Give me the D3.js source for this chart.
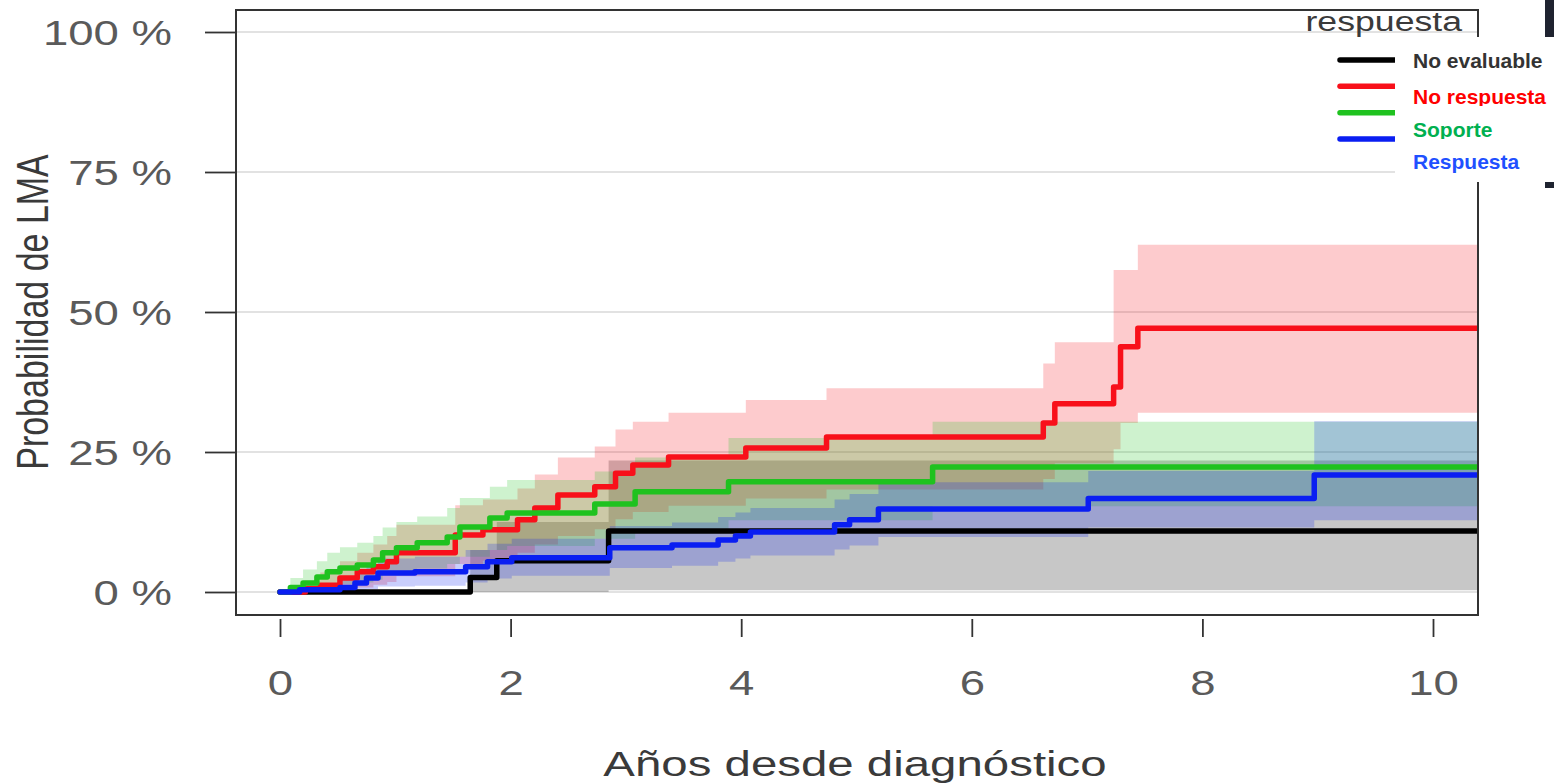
<!DOCTYPE html>
<html>
<head>
<meta charset="utf-8">
<script src="https://cdn.jsdelivr.net/npm/d3@7"></script>
<style>
  html, body { margin: 0; padding: 0; background: #fff; }
  svg { display: block; }
  text { font-family: "Liberation Sans", Arial, sans-serif; }
</style>
</head>
<body>
<svg id="chart" width="1554" height="783"></svg>
<script>
// Cumulative incidence of LMA by response group (step estimates with 95% CI)
const groups = ["No evaluable", "No respuesta", "Soporte", "Respuesta"];
const lineColors = ["#000000", "#f8101a", "#1fc21f", "#0a1ef2"];
const labelColors = ["#333333", "#ff0000", "#00b050", "#1f50ff"];

// No evaluable
const noEvalTime  = [0, 1.65, 1.88, 2.85, 10.4];
const noEvalEst   = [0, 2.6, 5.6, 10.9, 10.9];
const noEvalLower = [0, 0, 0, 0.3, 0.3];
const noEvalUpper = [0, 7.5, 12.5, 23.5, 23.5];

// No respuesta
const noRespTime  = [0, 0.22, 0.35, 0.52, 0.67, 0.81, 0.93, 1.01, 1.52, 1.76, 2.06, 2.21, 2.41, 2.73, 2.91, 3.06, 3.37, 4.04, 4.74, 6.62, 6.72, 7.23, 7.29, 7.44, 10.4];
const noRespEst   = [0, 0.6, 1.2, 2.5, 3.6, 4.5, 5.4, 7.0, 10.2, 11.1, 12.9, 15.0, 17.3, 18.8, 21.2, 22.7, 24.1, 25.7, 27.7, 30.2, 33.6, 36.6, 43.8, 47.1, 47.1];
const noRespLower = [0, 0, 0, 0.3, 0.8, 1.3, 1.8, 2.8, 5.0, 5.6, 7.0, 8.5, 10.0, 11.2, 13.0, 14.3, 15.4, 16.7, 18.3, 20.2, 23.0, 25.5, 30.2, 32.0, 32.0];
const noRespUpper = [0, 2.0, 3.5, 5.5, 7.0, 8.5, 10.0, 12.0, 15.5, 16.5, 18.5, 21.0, 24.0, 26.0, 29.0, 30.4, 32.0, 34.3, 36.4, 40.8, 44.6, 57.5, 57.5, 62.0, 62.0];

// Soporte
const soporteTime  = [0, 0.09, 0.2, 0.32, 0.41, 0.52, 0.67, 0.81, 0.89, 1.01, 1.19, 1.45, 1.56, 1.82, 1.97, 2.73, 3.08, 3.89, 5.66, 10.4];
const soporteEst   = [0, 0.8, 1.6, 2.7, 3.6, 4.3, 4.8, 5.7, 7.0, 7.9, 8.8, 9.8, 11.6, 13.2, 14.1, 15.7, 17.9, 19.7, 22.3, 22.3];
const soporteLower = [0, 0, 0.2, 0.6, 1.0, 1.4, 1.7, 2.2, 3.0, 3.6, 4.2, 5.0, 6.3, 7.5, 8.2, 9.5, 11.3, 12.8, 15.3, 15.3];
const soporteUpper = [0, 2.5, 4.0, 5.5, 7.0, 8.0, 8.8, 10.0, 11.5, 12.5, 13.5, 15.0, 16.8, 18.8, 20.0, 21.5, 24.0, 27.5, 30.4, 30.4];

// Respuesta
const respTime  = [0, 0.17, 0.52, 0.65, 0.75, 0.85, 1.17, 1.61, 1.8, 2.01, 2.86, 3.4, 3.8, 3.95, 4.08, 4.81, 4.94, 5.19, 7.01, 8.97, 10.4];
const respEst   = [0, 0.4, 0.8, 1.6, 2.5, 3.4, 3.6, 4.5, 5.4, 6.1, 7.9, 8.4, 9.3, 10.0, 10.7, 12.0, 12.9, 14.8, 16.7, 20.9, 20.9];
const respLower = [0, 0, 0, 0.1, 0.5, 1.0, 1.1, 1.7, 2.4, 2.9, 4.3, 4.7, 5.4, 6.0, 6.5, 7.6, 8.3, 9.8, 11.5, 12.8, 12.8];
const respUpper = [0, 1.2, 2.2, 3.5, 4.8, 6.0, 6.3, 7.5, 8.6, 9.5, 11.8, 12.4, 13.4, 14.2, 15.0, 16.5, 17.5, 19.6, 21.6, 30.5, 30.5];

const xTicks = [0, 2, 4, 6, 8, 10];
const yTicks = [0, 25, 50, 75, 100];
const yTickLabels = ["0 %", "25 %", "50 %", "75 %", "100 %"];
const xTitle = "Años desde diagnóstico";
const yTitle = "Probabilidad de LMA";
const legendTitle = "respuesta";

const series = [
  { t: noEvalTime,  est: noEvalEst,  lo: noEvalLower,  hi: noEvalUpper },
  { t: noRespTime,  est: noRespEst,  lo: noRespLower,  hi: noRespUpper },
  { t: soporteTime, est: soporteEst, lo: soporteLower, hi: soporteUpper },
  { t: respTime,    est: respEst,    lo: respLower,    hi: respUpper }
].map((s, i) => ({
  name: groups[i],
  color: lineColors[i],
  points: s.t.map((t, j) => ({ t, est: s.est[j], lo: s.lo[j], hi: s.hi[j] }))
}));

const svg = d3.select("#chart");
const panel = { left: 236, top: 10, right: 1478, bottom: 615 };
const x = d3.scaleLinear().domain([0, 10]).range([280, 1433]);
const y = d3.scaleLinear().domain([0, 100]).range([592, 32]);
const sx = 1.3;           // horizontal stretch of lettering
const textGrey = "#5a5a5a";

svg.append("defs").append("clipPath").attr("id", "panelClip")
  .append("rect")
  .attr("x", panel.left).attr("y", panel.top)
  .attr("width", panel.right - panel.left).attr("height", panel.bottom - panel.top);

// horizontal grid
svg.append("g").selectAll("line").data(yTicks).join("line")
  .attr("x1", panel.left).attr("x2", panel.right)
  .attr("y1", d => y(d)).attr("y2", d => y(d))
  .attr("stroke", "#d9d9d9").attr("stroke-width", 1.5);

const plot = svg.append("g").attr("clip-path", "url(#panelClip)");

// confidence ribbons
const area = d3.area()
  .curve(d3.curveStepAfter)
  .x(d => x(d.t)).y0(d => y(d.lo)).y1(d => y(d.hi));
plot.append("g").selectAll("path").data(series).join("path")
  .attr("d", d => area(d.points))
  .attr("fill", d => d.color)
  .attr("fill-opacity", 0.22)
  .attr("stroke", "none");

// estimate curves
const line = d3.line()
  .curve(d3.curveStepAfter)
  .x(d => x(d.t)).y(d => y(d.est));
plot.append("g").selectAll("path").data(series).join("path")
  .attr("d", d => line(d.points))
  .attr("fill", "none")
  .attr("stroke", d => d.color)
  .attr("stroke-width", 5.5)
  .attr("stroke-linejoin", "round")
  .attr("stroke-linecap", "round");

// panel border
svg.append("rect")
  .attr("x", panel.left).attr("y", panel.top)
  .attr("width", panel.right - panel.left).attr("height", panel.bottom - panel.top)
  .attr("fill", "none").attr("stroke", "#333").attr("stroke-width", 2);

// y axis
const yAxis = svg.append("g")
  .attr("transform", `translate(${panel.left},0)`)
  .call(d3.axisLeft(y).tickValues(yTicks).tickSize(31).tickFormat((d, i) => yTickLabels[i]));
yAxis.select(".domain").remove();
yAxis.selectAll(".tick line").attr("stroke", "#333").attr("stroke-width", 1.8);
yAxis.selectAll(".tick text")
  .attr("x", null).attr("dy", null)
  .attr("font-size", 35).attr("fill", textGrey)
  .attr("text-anchor", "end")
  .attr("transform", `translate(-64,12) scale(${sx},1)`);

// x axis
const xAxis = svg.append("g")
  .attr("transform", `translate(0,${panel.bottom})`)
  .call(d3.axisBottom(x).tickValues(xTicks).tickSize(22).tickPadding(0));
xAxis.select(".domain").remove();
xAxis.selectAll(".tick line").attr("stroke", "#333").attr("stroke-width", 1.8).attr("y1", 4);
xAxis.selectAll(".tick text")
  .attr("y", null).attr("dy", null)
  .attr("font-size", 35).attr("fill", textGrey)
  .attr("text-anchor", "middle")
  .attr("transform", `translate(0,80) scale(${sx},1)`);

// axis titles
svg.append("text")
  .attr("transform", `translate(855,776) scale(1.355,1)`)
  .attr("text-anchor", "middle")
  .attr("font-size", 35).attr("fill", "#3a3a3a")
  .text(xTitle);
svg.append("text")
  .attr("transform", `translate(48,312) scale(${sx},1) rotate(-90)`)
  .attr("text-anchor", "middle")
  .attr("font-size", 34).attr("fill", "#3a3a3a")
  .text(yTitle);

// legend
svg.append("text")
  .attr("transform", `translate(1462,31) scale(1.32,1)`)
  .attr("text-anchor", "end")
  .attr("font-size", 27).attr("fill", "#3a3a3a")
  .text(legendTitle);

const keyY = d3.scalePoint().domain(groups).range([60, 139]);
svg.append("g").selectAll("line").data(groups).join("line")
  .attr("x1", 1340).attr("x2", 1400)
  .attr("y1", d => keyY(d)).attr("y2", d => keyY(d))
  .attr("stroke", (d, i) => lineColors[i])
  .attr("stroke-width", 5.5)
  .attr("stroke-linecap", "round");

// label panel on the right
svg.append("rect").attr("x", 1545).attr("y", 0).attr("width", 9).attr("height", 188).attr("fill", "#1f2330");
svg.append("rect").attr("x", 1395).attr("y", 37).attr("width", 159).attr("height", 145).attr("fill", "#fff");

const labelBase = [68, 104, 137, 169];
const labelClip = [180, 106, 139, 180];
const defs = svg.select("defs");
groups.forEach((g, i) => {
  defs.append("clipPath").attr("id", "lab" + i)
    .append("rect").attr("x", 1395).attr("y", 37).attr("width", 159).attr("height", labelClip[i] - 37);
});
svg.append("g").selectAll("text").data(groups).join("text")
  .attr("clip-path", (d, i) => `url(#lab${i})`)
  .attr("x", 1413).attr("y", (d, i) => labelBase[i])
  .attr("font-size", 21).attr("font-weight", "bold")
  .attr("fill", (d, i) => labelColors[i])
  .text(d => d);
</script>
</body>
</html>
